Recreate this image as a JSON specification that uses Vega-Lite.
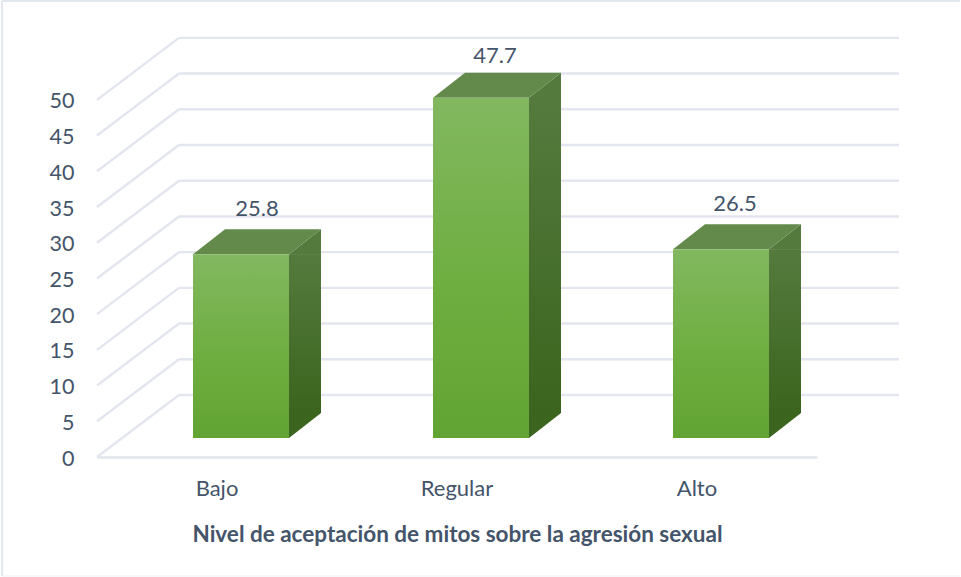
{
"$schema":"https://vega.github.io/schema/vega-lite/v6.json",
"width":958,"height":575,
"padding":{"left":2,"top":1,"right":1,"bottom":1},
"autosize":{"type":"none"},
"background":"white",
"config":{"view":{"stroke":null},"font":"Lato"},
"datasets":{
"ticks":[{"tick":0},{"tick":5},{"tick":10},{"tick":15},{"tick":20},{"tick":25},{"tick":30},{"tick":35},{"tick":40},{"tick":45},{"tick":50}],
"bars":[{"nivel":"Bajo","valor":25.8},{"nivel":"Regular","valor":47.7},{"nivel":"Alto","valor":26.5}]
},
"layer":[
{"data":{"values":[{"edge":"frame"}]},
 "mark":{"type":"rule","stroke":"#e3e7ee","strokeWidth":2},
 "encoding":{"x":{"value":0},"y":{"value":0},"y2":{"value":575}}},
{"data":{"values":[{"edge":"frame"}]},
 "mark":{"type":"rule","stroke":"#e3e7ee","strokeWidth":2},
 "encoding":{"y":{"value":0},"x":{"value":0},"x2":{"value":958}}},
{"data":{"values":[{"edge":"frame"}]},
 "mark":{"type":"rule","stroke":"#eff1f5","strokeWidth":1},
 "encoding":{"y":{"value":575},"x":{"value":0},"x2":{"value":958}}},
{"data":{"name":"ticks"},
 "mark":{"type":"rule","stroke":"#e3e6ee","strokeWidth":2.4,"xOffset":82,"x2Offset":82,"yOffset":-62,"y2Offset":-62},
 "encoding":{
  "x":{"datum":"Bajo","bandPosition":0,"type":"nominal","scale":{"type":"band","domain":["Bajo","Regular","Alto"],"range":[95,815],"paddingInner":0,"paddingOuter":0},
   "axis":{"orient":"bottom","offset":-119,"title":"Nivel de aceptación de mitos sobre la agresión sexual","titleColor":"#44546A","titleFont":"Lato","titleFontSize":22.5,"titleFontWeight":"bold","titlePadding":24,"labelColor":"#44546A","labelFont":"Lato","labelFontSize":22,"labelAngle":0,"labelPadding":21,"ticks":false,"grid":false,"domainColor":"#e3e6ee","domainWidth":2.4}},
  "x2":{"datum":"Alto","bandPosition":1},
  "y":{"field":"tick","type":"quantitative","scale":{"domain":[0,63],"range":[456,6],"nice":false,"zero":false},
   "axis":{"orient":"left","offset":-95,"title":null,"values":[0,5,10,15,20,25,30,35,40,45,50],"labelColor":"#44546A","labelFont":"Lato","labelFontSize":21.5,"labelPadding":23,"labelOffset":2,"ticks":false,"grid":false,"domain":false}},
  "y2":{"field":"tick"}
 }},
{"data":{"name":"ticks"},
 "mark":{"type":"rule","stroke":"#e3e6ee","strokeWidth":2.4,"x2Offset":82,"y2Offset":-62},
 "encoding":{
  "x":{"datum":"Bajo","bandPosition":0,"type":"nominal"},
  "x2":{"datum":"Bajo","bandPosition":0},
  "y":{"field":"tick","type":"quantitative"},
  "y2":{"field":"tick"}
 }},
{"data":{"name":"bars"},
 "mark":{"type":"bar","width":32,"xOffset":88,"yOffset":-18.5,"y2Offset":-44,
  "fill":{"gradient":"linear","x1":0,"y1":0,"x2":0,"y2":1,"stops":[{"offset":0,"color":"#557A3E"},{"offset":1,"color":"#3B651E"}]}},
 "encoding":{"x":{"field":"nivel","type":"nominal"},"y":{"field":"valor","type":"quantitative"},"y2":{"datum":0}}},
{"data":{"name":"bars"},
 "mark":{"type":"point","filled":true,"size":4,"opacity":1,"fill":"#557A3E","stroke":null,"xOffset":72,"yOffset":-18.5,"shape":"M0 0.5L32 0.5L32 -25L0 0Z"},
 "encoding":{"x":{"field":"nivel","type":"nominal"},"y":{"field":"valor","type":"quantitative"}}},
{"data":{"name":"bars"},
 "mark":{"type":"point","filled":true,"size":4,"opacity":1,"fill":"#3B651E","stroke":null,"xOffset":72,"yOffset":-19,"shape":"M0 0L32 -25L32 -25.5L0 -25.5Z"},
 "encoding":{"x":{"field":"nivel","type":"nominal"},"y":{"datum":0,"type":"quantitative"}}},
{"data":{"name":"bars"},
 "mark":{"type":"point","filled":true,"size":4,"opacity":1,"fill":"#638A4A","stroke":null,"xOffset":24,"yOffset":-18.5,"shape":"M-48 0L48 0L80 -25L-16 -25Z"},
 "encoding":{"x":{"field":"nivel","type":"nominal"},"y":{"field":"valor","type":"quantitative"}}},
{"data":{"name":"bars"},
 "mark":{"type":"bar","width":96,"xOffset":24,"yOffset":-18.5,"y2Offset":-19,
  "fill":{"gradient":"linear","x1":0,"y1":0,"x2":0,"y2":1,"stops":[{"offset":0,"color":"#82B860"},{"offset":0.55,"color":"#6EAE40"},{"offset":1,"color":"#62A434"}]}},
 "encoding":{"x":{"field":"nivel","type":"nominal"},"y":{"field":"valor","type":"quantitative"},"y2":{"datum":0}}},
{"data":{"name":"bars"},
 "mark":{"type":"text","font":"Lato","fontSize":22,"fill":"#44546A","baseline":"middle","align":"center","xOffset":{"expr":"datum.valor<26?40:38"},"yOffset":{"expr":"datum.valor>40?-60:-64"}},
 "encoding":{"x":{"field":"nivel","type":"nominal"},"y":{"field":"valor","type":"quantitative"},"text":{"field":"valor","type":"quantitative","format":".1f"}}}
]
}
